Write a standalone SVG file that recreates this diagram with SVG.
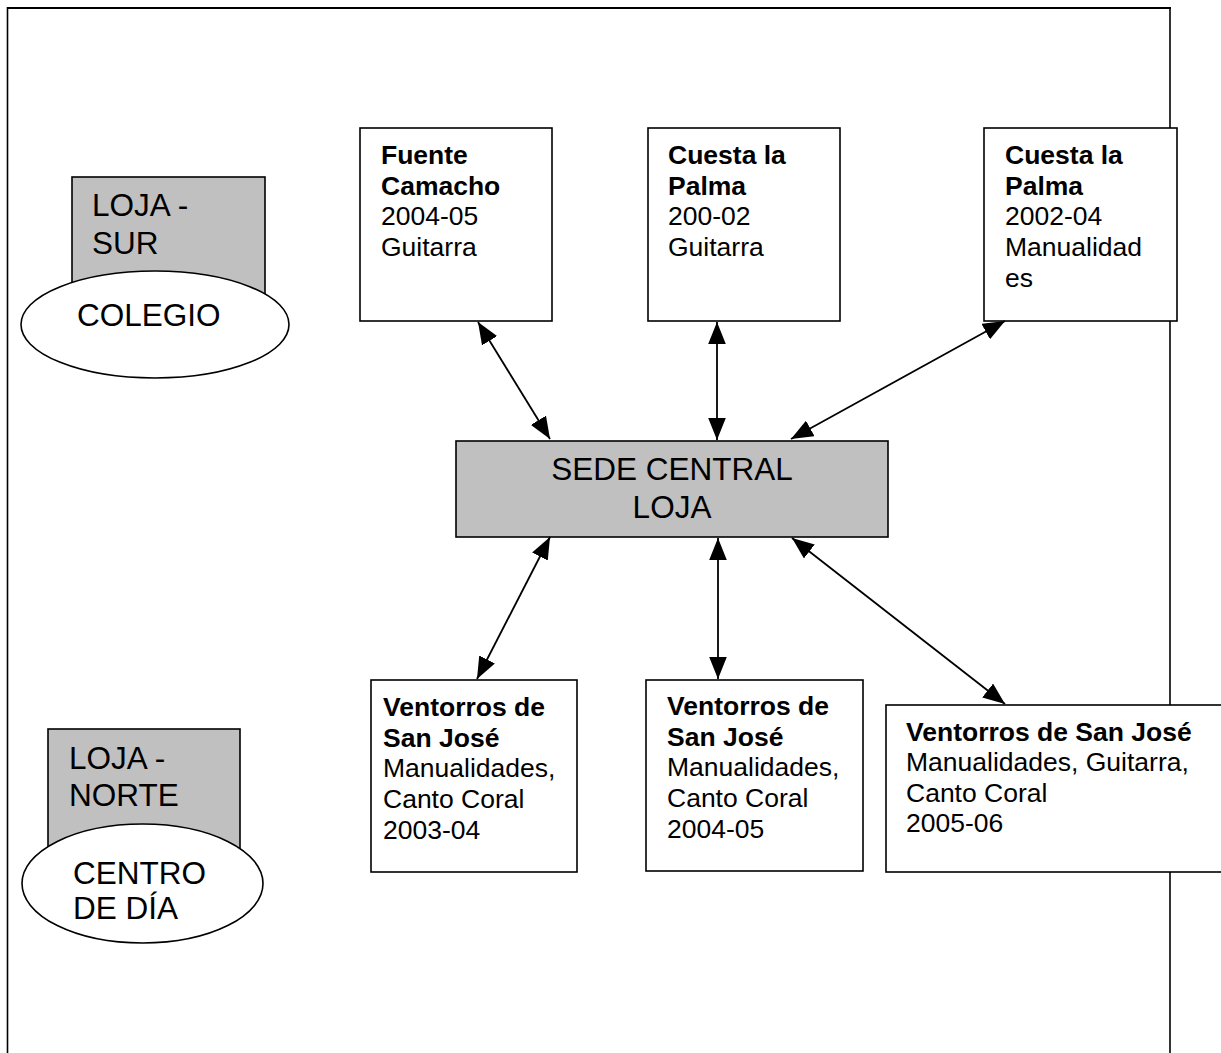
<svg xmlns="http://www.w3.org/2000/svg" width="1221" height="1053" viewBox="0 0 1221 1053">
<defs>
<style>
.box{fill:#ffffff;stroke:#000;stroke-width:1.6}
.gray{fill:#c0c0c0;stroke:#000;stroke-width:1.6}
.ell{fill:#ffffff;stroke:#000;stroke-width:1.6}
.t{font-family:"Liberation Sans",Arial,sans-serif;font-size:26.5px;fill:#000}
.b{font-weight:bold}
.big{font-family:"Liberation Sans",Arial,sans-serif;font-size:31.5px;fill:#000}
.conn{stroke:#000;stroke-width:1.8;fill:none;marker-start:url(#ah);marker-end:url(#ah)}
</style>
<marker id="ah" markerUnits="userSpaceOnUse" markerWidth="22" markerHeight="18" refX="20" refY="8" orient="auto-start-reverse" viewBox="0 0 20 16">
<path d="M0,0 L20,8 L0,16 z" fill="#000"/>
</marker>
</defs>
<rect width="1221" height="1053" fill="#ffffff"/>
<g id="frame" stroke="#000" fill="none">
<line x1="7.5" y1="8" x2="1171" y2="8" stroke-width="2.2"/>
<line x1="7.5" y1="7" x2="7.5" y2="1053" stroke-width="1.6"/>
<line x1="1170" y1="7" x2="1170" y2="1053" stroke-width="1.6"/>
</g>
<g id="loja-sur">
<rect class="gray" x="72" y="177" width="193" height="130"/>
<text class="big" x="92" y="216">LOJA -</text>
<text class="big" x="92" y="254">SUR</text>
</g>
<g id="colegio">
<ellipse class="ell" cx="155" cy="324.5" rx="134" ry="53.5"/>
<text class="big" x="77" y="326">COLEGIO</text>
</g>
<g id="loja-norte">
<rect class="gray" x="48" y="729" width="192" height="130"/>
<text class="big" x="69" y="769">LOJA -</text>
<text class="big" x="69" y="806">NORTE</text>
</g>
<g id="centro-dia">
<ellipse class="ell" cx="142.5" cy="883.5" rx="120.5" ry="59.5"/>
<text class="big" x="73" y="884">CENTRO</text>
<text class="big" x="73" y="919">DE DÍA</text>
</g>
<g id="fuente-camacho">
<rect class="box" x="360" y="128" width="192" height="193"/>
<text class="t" x="381" y="164"><tspan class="b">Fuente</tspan><tspan class="b" x="381" dy="30.7">Camacho</tspan><tspan x="381" dy="30.7">2004-05</tspan><tspan x="381" dy="30.7">Guitarra</tspan></text>
</g>
<g id="cuesta-palma-1">
<rect class="box" x="648" y="128" width="192" height="193"/>
<text class="t" x="668" y="164"><tspan class="b">Cuesta la</tspan><tspan class="b" x="668" dy="30.7">Palma</tspan><tspan x="668" dy="30.7">200-02</tspan><tspan x="668" dy="30.7">Guitarra</tspan></text>
</g>
<g id="cuesta-palma-2">
<rect class="box" x="984" y="128" width="193" height="193"/>
<text class="t" x="1005" y="164"><tspan class="b">Cuesta la</tspan><tspan class="b" x="1005" dy="30.7">Palma</tspan><tspan x="1005" dy="30.7">2002-04</tspan><tspan x="1005" dy="30.7">Manualidad</tspan><tspan x="1005" dy="30.7">es</tspan></text>
</g>
<g id="sede-central">
<rect class="gray" x="456" y="441" width="432" height="96"/>
<text class="big" x="672" y="480" text-anchor="middle">SEDE CENTRAL</text>
<text class="big" x="672" y="518" text-anchor="middle">LOJA</text>
</g>
<g id="ventorros-1">
<rect class="box" x="371" y="680" width="206" height="192"/>
<text class="t" x="383" y="716"><tspan class="b">Ventorros de</tspan><tspan class="b" x="383" dy="30.7">San José</tspan><tspan x="383" dy="30.7">Manualidades,</tspan><tspan x="383" dy="30.7">Canto Coral</tspan><tspan x="383" dy="30.7">2003-04</tspan></text>
</g>
<g id="ventorros-2">
<rect class="box" x="646" y="680" width="217" height="191"/>
<text class="t" x="667" y="715"><tspan class="b">Ventorros de</tspan><tspan class="b" x="667" dy="30.7">San José</tspan><tspan x="667" dy="30.7">Manualidades,</tspan><tspan x="667" dy="30.7">Canto Coral</tspan><tspan x="667" dy="30.7">2004-05</tspan></text>
</g>
<g id="ventorros-3">
<rect class="box" x="886" y="705" width="340" height="167"/>
<text class="t" x="906" y="741"><tspan class="b">Ventorros de San José</tspan><tspan x="906" dy="30.3">Manualidades, Guitarra,</tspan><tspan x="906" dy="30.3">Canto Coral</tspan><tspan x="906" dy="30.3">2005-06</tspan></text>
</g>
<g id="connectors">
<line class="conn" x1="478" y1="322" x2="550" y2="439"/>
<line class="conn" x1="717" y1="322" x2="717" y2="440"/>
<line class="conn" x1="1005" y1="321" x2="791" y2="439"/>
<line class="conn" x1="550" y1="537" x2="477" y2="679"/>
<line class="conn" x1="718" y1="538" x2="718" y2="679"/>
<line class="conn" x1="792" y1="538" x2="1005" y2="704"/>
</g>
</svg>
